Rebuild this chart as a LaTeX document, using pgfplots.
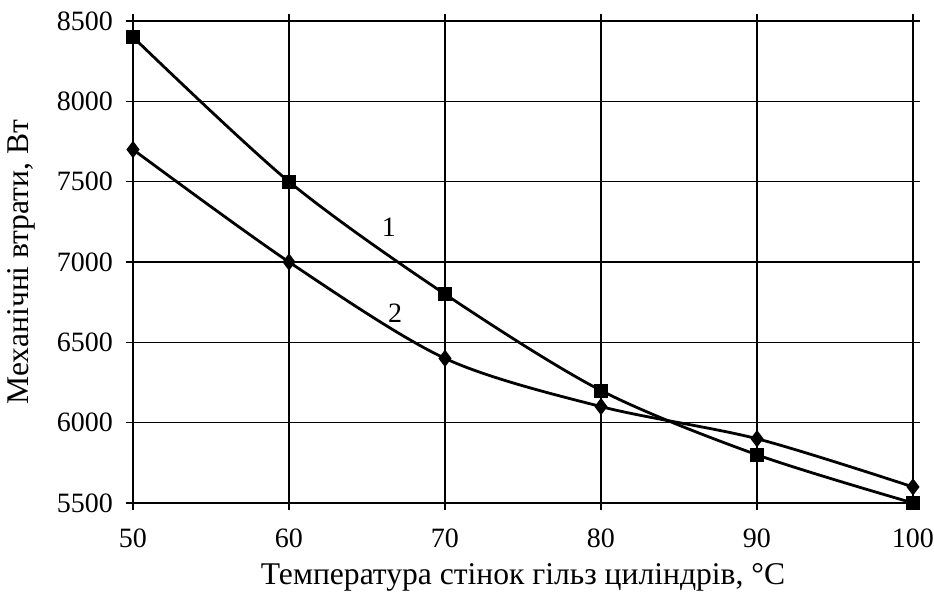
\documentclass[border=0pt]{standalone}
\usepackage{fontspec}
\setmainfont{Liberation Serif}
\usepackage{pgfplots}
\pgfplotsset{compat=1.18}
\begin{document}
\begin{tikzpicture}[font=\fontsize{14}{16}\selectfont]
\begin{axis}[
  scale only axis,
  width=390pt, height=241pt,
  xmin=50, xmax=100, ymin=5500, ymax=8500,
  xtick={50,60,...,100},
  ytick={5500,6000,...,8500},
  grid=major,
  grid style={black, line width=0.8pt},
  axis line style={black, line width=0.8pt},
  tick style={black, line width=0.8pt},
  tick align=outside,
  major tick length=3.5pt,
  /pgf/number format/assume math mode=true,
  /pgf/number format/set thousands separator={},
  ticklabel style={font=\fontsize{14}{16}\selectfont},
  yticklabel style={xshift=-3pt},
  xticklabel style={yshift=-6pt},
  xlabel={Температура стінок гільз циліндрів, °С},
  ylabel={Механічні втрати, Вт},
  label style={font=\fontsize{15.8}{18}\selectfont},
  xlabel style={yshift=-1pt},
  ylabel style={yshift=4pt},
  clip=false,
]
\addplot[black, line width=1.4pt, smooth, tension=0.5, mark=square*, mark size=2.8pt, mark options={solid}]
  coordinates {(50,8400) (60,7500) (70,6800) (80,6200) (90,5800) (100,5500)};
\addplot[black, line width=1.4pt, smooth, tension=0.5, mark=diamond*, mark size=3.2pt, mark options={solid}]
  coordinates {(50,7700) (60,7000) (70,6400) (80,6100) (90,5900) (100,5600)};
\node at (axis cs:66.4,7218) {1};
\node at (axis cs:66.8,6683) {2};
\end{axis}
\pgfresetboundingbox
\path (-66.5pt,-48pt) rectangle (400.5pt,251.5pt);
\end{tikzpicture}
\end{document}
